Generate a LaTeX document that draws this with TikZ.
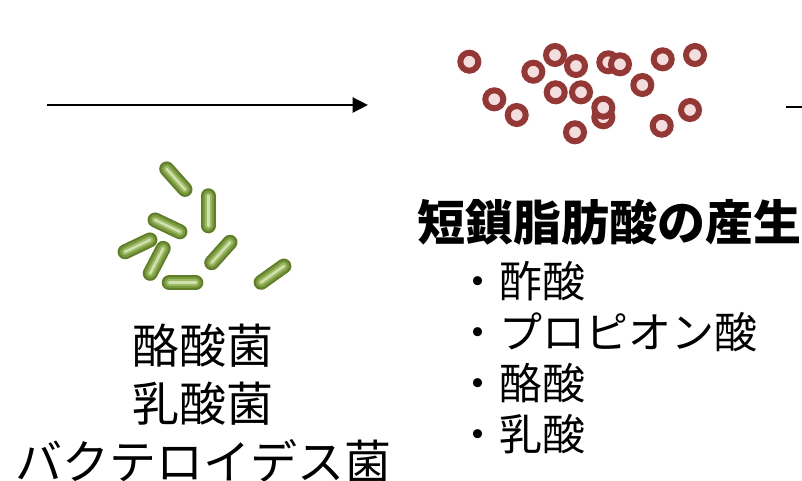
\documentclass[tikz,border=0pt]{standalone}
\usepackage{fontspec}
\setmainfont{Noto Sans CJK JP}
\usepackage{tikz}
\usetikzlibrary{arrows, arrows.meta, positioning}

\definecolor{ringred}{RGB}{149,55,53}
\definecolor{ringfill}{RGB}{242,222,222}
\definecolor{rodA}{RGB}{96,126,42}
\definecolor{rodB}{RGB}{122,154,62}
\definecolor{rodC}{RGB}{156,186,100}
\definecolor{rodD}{RGB}{208,224,174}

\begin{document}
\begin{tikzpicture}[x=1pt, y=-1pt,
    cell/.style={circle, draw=ringred, fill=ringfill, line width=6pt, minimum size=18pt, inner sep=0pt},
    rod/.style={line cap=round, shorten <=7.5pt, shorten >=7.5pt},
    label/.style={inner sep=0pt, font=\fontsize{47}{56}\selectfont, text height=41pt, text depth=6pt},
    title/.style={label, font=\fontsize{48}{56}\selectfont\bfseries},
    item/.style={inner sep=0pt, font=\fontsize{43}{50}\selectfont, text height=38pt, text depth=5pt}]
    \useasboundingbox (0,0) rectangle (802,480);

    % arrows
    \coordinate (a1) at (47,105);
    \coordinate (a2) at (368,105);
    \coordinate (b1) at (786,107);
    \coordinate (b2) at (1100,107);
    \path[-{Triangle[length=15.5pt, width=15pt]}] (a1) edge [line width=2.8pt] (a2);
    \path[-{Triangle[length=15.5pt, width=15pt]}] (b1) edge [line width=2.8pt] (b2);

    % rod-shaped bacteria
    \foreach \ax/\ay/\bx/\by in {161.7/163.3/190/195, 208.3/188.3/208.3/233.3,
        148.3/216.7/186.7/235, 118.3/255/156.7/236.7, 146.7/280/166.7/241.7,
        161.7/282.7/203.3/282.7, 206.7/268.3/235/236.7, 255/286.7/290/261.7} {
        \draw[rod, rodA, line width=15pt] (\ax,\ay) -- (\bx,\by);
        \draw[rod, rodB, line width=11pt] (\ax,\ay) -- (\bx,\by);
        \draw[rod, rodC, line width=6.5pt] (\ax,\ay) -- (\bx,\by);
        \draw[rod, rodD, line width=2.5pt] (\ax,\ay) -- (\bx,\by);
    }

    % fatty acid molecules
    \foreach \x/\y [count=\i] in {469.3/61.7, 555/55, 576/66, 533.3/71.7, 608.3/62.3,
        620/64.3, 662.7/59.3, 695/55, 642.3/85, 494.3/99.3, 555.7/92.3, 581/92.3,
        603.3/117.3, 603.3/107.7, 516.7/115, 690/110, 661.7/125.7, 575/132.3}
        \node[cell] (m\i) at (\x,\y) {};

    % bacteria names
    \node[label] (butyric) at (203,346) {酪酸菌};
    \node[label] (lactic) [below=11pt of butyric] {乳酸菌};
    \node[label] (bactero) [below=10pt of lactic] {バクテロイデス菌};

    % products
    \node[title] (scfa) at (609,223) {短鎖脂肪酸の産生};
    \node[item, anchor=west] (acetic) at (456,281) {・酢酸};
    \node[item] (propionic) [below right=7.5pt and 0pt of acetic.south west] {・プロピオン酸};
    \node[item] (butyrate) [below right=7.5pt and 0pt of propionic.south west] {・酪酸};
    \node[item] (lactate) [below right=7.5pt and 0pt of butyrate.south west] {・乳酸};
\end{tikzpicture}
\end{document}
